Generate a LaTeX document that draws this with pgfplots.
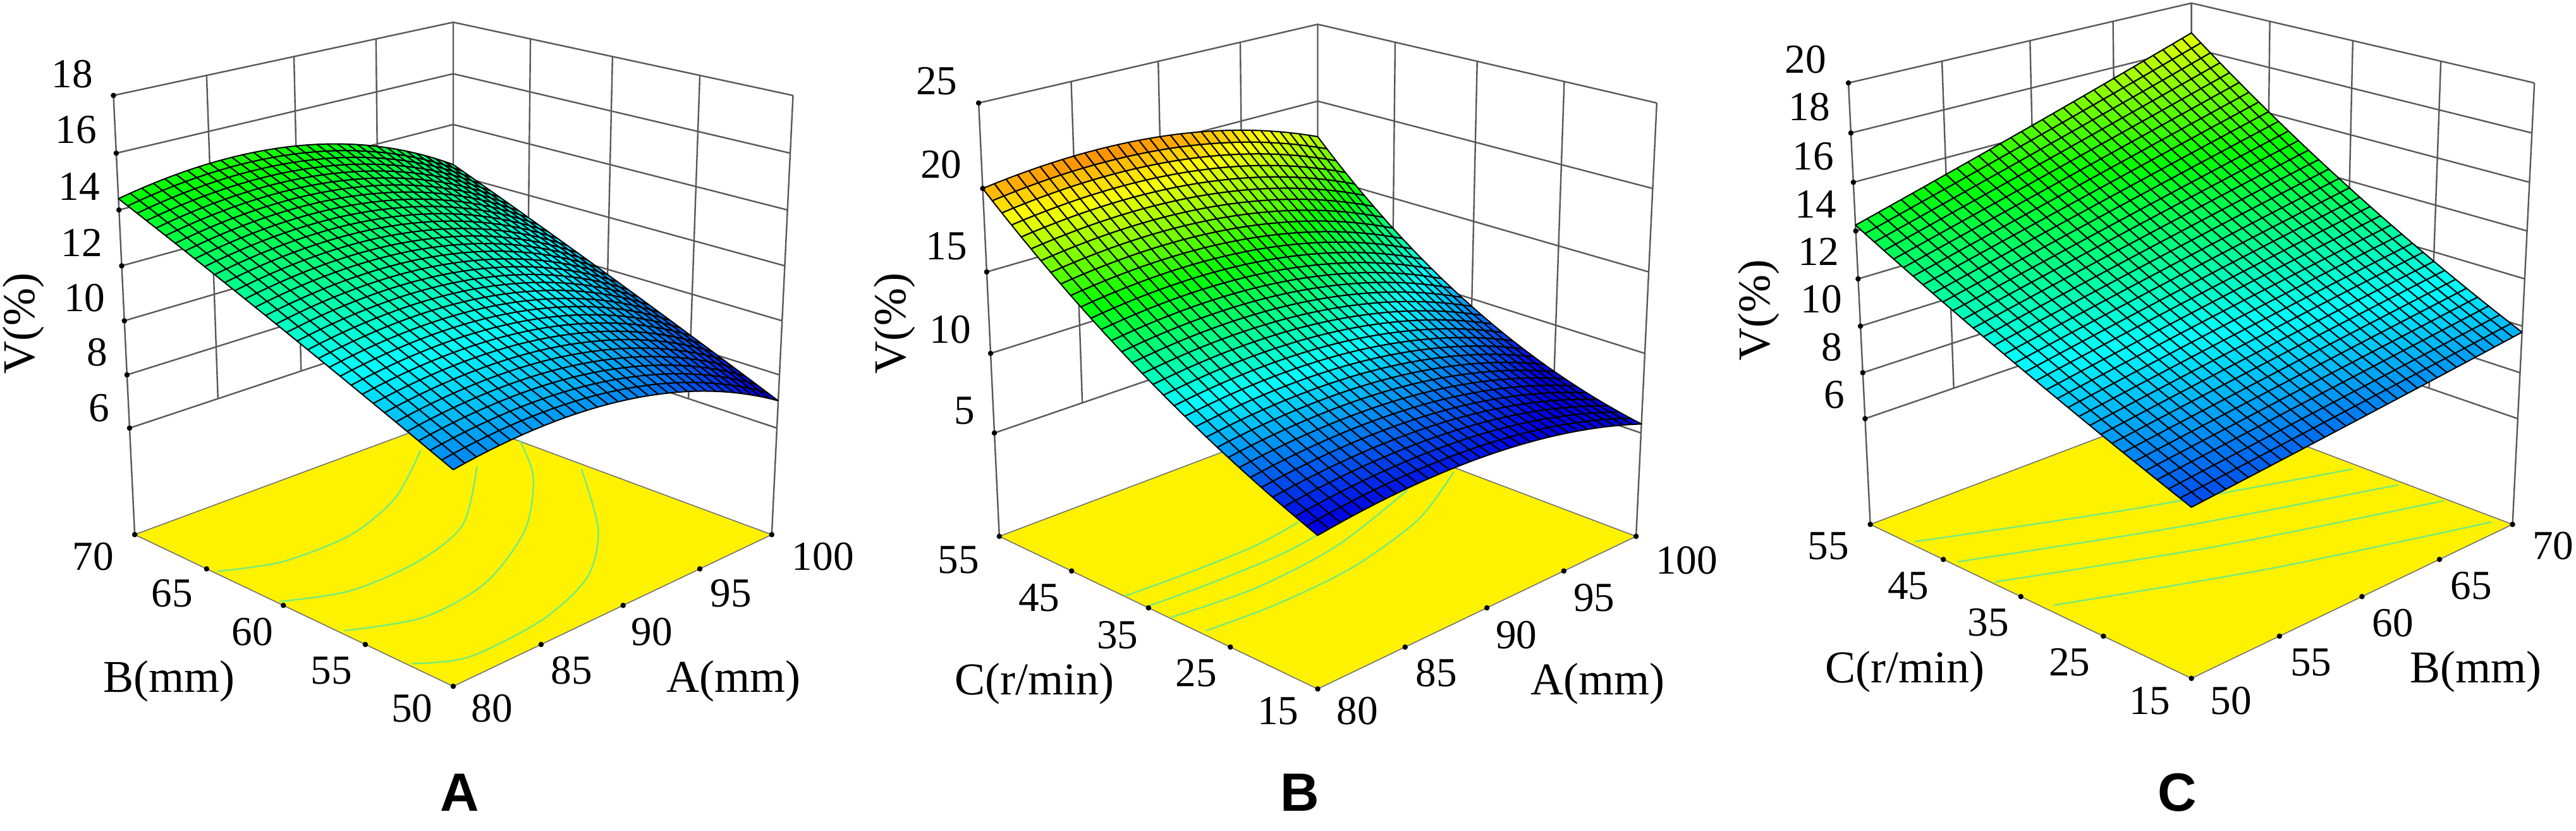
\documentclass[border=0pt]{standalone}
\usepackage{fontspec}
\setmainfont{Liberation Serif}
\newfontfamily\panelfont{Liberation Sans}
\usepackage{pgfplots}
\pgfplotsset{compat=1.18}
\usepgfplotslibrary{patchplots}

% perspective of the Design-Expert box: u,v,w are 0..1 along the three axes
\tikzset{declare function={
  DD(\u,\v,\w)=1+\Pg*(\u+\v)+\Pr*\w;
  PX(\u,\v,\w)=\Pcx+\Pa*(\u-\v)/DD(\u,\v,\w);
  PY(\u,\v,\w)=(\Pyo+\Pd*(\u+\v)+\Pq*\w)/DD(\u,\v,\w);
}}
\definecolor{contgreen}{RGB}{115,235,125}
\pgfplotsset{
  colormap={de}{rgb255=(0,0,225) rgb255=(0,255,255) rgb255=(0,255,0) rgb255=(255,255,0) rgb255=(255,0,0)},
  table/mapped/.style={row sep=\\,
    x expr={PX((\thisrow{a}-\Xlo)/\Xd,(\thisrow{b}-\Ylo)/\Yd,(\thisrow{v}-\Zlo)/\Zd)},
    y expr={PY((\thisrow{a}-\Xlo)/\Xd,(\thisrow{b}-\Ylo)/\Yd,(\thisrow{v}-\Zlo)/\Zd)}},
  panel/.style={hide axis,scale only axis,clip=false,anchor=south west,y dir=reverse,
    xmin=0,xmax=1568,ymin=0,ymax=1568,height=328.5pt,colormap name=de,unbounded coords=jump},
  wall/.style={no marks,black!65,line width=0.6pt},
  floorq/.style={no marks,fill=yellow,draw=black!55,line width=0.4pt},
  cont/.style={no marks,smooth,color=contgreen,line width=0.6pt},
  dots/.style={only marks,mark=*,mark size=0.85pt,mark options={fill=black,draw=black}},
  surface/.style={patch,patch type=biquadratic,patch refines=5,shader=faceted,point meta=explicit,
    faceted color=black,line width=0.5pt},
}
\newcommand\tl[3]{\node[font=\fontsize{16.3}{18}\selectfont] at (axis cs:#1,#2) {#3};}
\newcommand\al[3]{\node[font=\fontsize{18}{20}\selectfont] at (axis cs:#1,#2) {#3};}
\newcommand\vl[2]{\node[rotate=90,font=\fontsize{18}{20}\selectfont] at (axis cs:#1,#2) {V(\%)};}
\newcommand\pl[3]{\node[font=\panelfont\bfseries\fontsize{21.3}{23}\selectfont] at (axis cs:#1,#2) {#3};}

\begin{document}
\begin{tikzpicture}
\useasboundingbox (0,0) rectangle (1018.75pt,328.5pt);

% ---------- A
\def\Pcx{803}\def\Pyo{1295}\def\Pg{0.143}\def\Pr{-0.0716}\def\Pa{645}\def\Pd{-142}\def\Pq{-960}
\def\Xlo{80}\def\Xd{20}\def\Ylo{50}\def\Yd{20}\def\Zlo{1.9}\def\Zd{16.1}
\begin{axis}[panel,at={(0pt,0pt)},width=350pt,point meta min=7.5,point meta max=21.5]
\addplot[wall] table[mapped]{a b v\\
80 70 18\\100 70 18\\100 50 18\\nan nan nan\\
80 70 16\\100 70 16\\100 50 16\\nan nan nan\\
80 70 14\\100 70 14\\100 50 14\\nan nan nan\\
80 70 12\\100 70 12\\100 50 12\\nan nan nan\\
80 70 10\\100 70 10\\100 50 10\\nan nan nan\\
80 70 8\\100 70 8\\100 50 8\\nan nan nan\\
80 70 6\\100 70 6\\100 50 6\\nan nan nan\\
80 70 18\\80 70 1.9\\nan nan nan\\
100 70 18\\100 70 1.9\\nan nan nan\\
100 50 18\\100 50 1.9\\nan nan nan\\
85 70 18\\85 70 6\\nan nan nan\\90 70 18\\90 70 6\\nan nan nan\\95 70 18\\95 70 6\\nan nan nan\\
100 65 18\\100 65 6\\nan nan nan\\100 60 18\\100 60 6\\nan nan nan\\100 55 18\\100 55 6\\
};
\addplot[floorq] table[mapped]{a b v\\80 50 1.9\\100 50 1.9\\100 70 1.9\\80 70 1.9\\80 50 1.9\\};
% floor contours, read off in picture units
\addplot[cont] coordinates {(385,1078)(500,1060)(620,1010)(700,940)(745,850)};
\addplot[cont] coordinates {(495,1135)(620,1115)(740,1060)(820,990)(845,880)};
\addplot[cont] coordinates {(610,1190)(750,1165)(860,1100)(930,1000)(945,900)(920,830)};
\addplot[cont] coordinates {(730,1252)(830,1240)(960,1170)(1040,1090)(1060,1000)(1030,885)};
\addplot[surface] table[mapped,meta=v]{a b v\\
80 50 9.24\\100 50 7.03\\100 70 12.4\\80 70 14.4\\90 50 9.3\\100 60 9.8\\90 70 14.7\\80 60 11.9\\90 60 12.1\\};
\addplot[dots] table[mapped]{a b v\\
80 50 1.9\\85 50 1.9\\90 50 1.9\\95 50 1.9\\100 50 1.9\\80 55 1.9\\80 60 1.9\\80 65 1.9\\80 70 1.9\\
80 70 6\\80 70 8\\80 70 10\\80 70 12\\80 70 14\\80 70 16\\80 70 18\\};
\tl{128}{140}{18}\tl{135}{245}{16}\tl{140}{352}{14}\tl{145}{458}{12}\tl{150}{562}{10}\tl{172}{665}{8}\tl{176}{770}{6}
\vl{42}{610}
\tl{165}{1050}{70}\tl{305}{1120}{65}\tl{447}{1192}{60}\tl{587}{1265}{55}\tl{730}{1337}{50}
\tl{872}{1337}{80}\tl{1013}{1265}{85}\tl{1155}{1192}{90}\tl{1295}{1120}{95}\tl{1458}{1050}{100}
\al{300}{1285}{B(mm)}\al{1300}{1285}{A(mm)}
\pl{815}{1495}{A}
\end{axis}

% ---------- B
\def\Pcx{795}\def\Pyo{1300}\def\Pg{0.1344}\def\Pr{-0.0692}\def\Pa{663.6}\def\Pd{-152}\def\Pq{-941}
\def\Xlo{80}\def\Xd{20}\def\Ylo{15}\def\Yd{40}\def\Zlo{-1.67}\def\Zd{26.67}
\begin{axis}[panel,at={(350pt,0pt)},width=337.5pt,point meta min=7.5,point meta max=22.5]
\addplot[wall] table[mapped]{a b v\\
80 55 25\\100 55 25\\100 15 25\\nan nan nan\\
80 55 20\\100 55 20\\100 15 20\\nan nan nan\\
80 55 15\\100 55 15\\100 15 15\\nan nan nan\\
80 55 10\\100 55 10\\100 15 10\\nan nan nan\\
80 55 5\\100 55 5\\100 15 5\\nan nan nan\\
80 55 25\\80 55 -1.67\\nan nan nan\\
100 55 25\\100 55 -1.67\\nan nan nan\\
100 15 25\\100 15 -1.67\\nan nan nan\\
85 55 25\\85 55 5\\nan nan nan\\90 55 25\\90 55 5\\nan nan nan\\95 55 25\\95 55 5\\nan nan nan\\
100 45 25\\100 45 5\\nan nan nan\\100 35 25\\100 35 5\\nan nan nan\\100 25 25\\100 25 5\\
};
\addplot[floorq] table[mapped]{a b v\\80 15 -1.67\\100 15 -1.67\\100 55 -1.67\\80 55 -1.67\\80 15 -1.67\\};
\addplot[cont] coordinates {(440,1125)(560,1080)(680,1030)(760,985)};
\addplot[cont] coordinates {(480,1145)(600,1100)(740,1040)(860,970)};
\addplot[cont] coordinates {(525,1165)(680,1110)(830,1030)(960,925)};
\addplot[cont] coordinates {(590,1190)(720,1140)(860,1070)(980,980)(1045,890)};
\addplot[surface] table[mapped,meta=v]{a b v\\
80 15 7.2\\100 15 5.57\\100 55 17.65\\80 55 20\\90 15 7.69\\100 35 9.5\\90 55 20.35\\80 35 12.43\\90 35 12.6\\};
\addplot[dots] table[mapped]{a b v\\
80 15 -1.67\\85 15 -1.67\\90 15 -1.67\\95 15 -1.67\\100 15 -1.67\\80 25 -1.67\\80 35 -1.67\\80 45 -1.67\\80 55 -1.67\\
80 55 5\\80 55 10\\80 55 15\\80 55 20\\80 55 25\\};
\tl{95}{153}{25}\tl{103}{310}{20}\tl{113}{465}{15}\tl{120}{622}{10}\tl{146}{775}{5}
\vl{18}{610}
\tl{135}{1057}{55}\tl{283}{1128}{45}\tl{427}{1198}{35}\tl{572}{1270}{25}\tl{722}{1342}{15}
\tl{868}{1342}{80}\tl{1013}{1270}{85}\tl{1160}{1198}{90}\tl{1303}{1128}{95}\tl{1473}{1057}{100}
\al{275}{1290}{C(r/min)}\al{1310}{1290}{A(mm)}
\pl{762}{1495}{B}
\end{axis}

% ---------- C
\def\Pcx{848}\def\Pyo{1280}\def\Pg{0.1329}\def\Pr{-0.0723}\def\Pa{681}\def\Pd{-159}\def\Pq{-955}
\def\Xlo{50}\def\Xd{20}\def\Ylo{15}\def\Yd{40}\def\Zlo{1.29}\def\Zd{18.71}
\begin{axis}[panel,at={(687.5pt,0pt)},width=331.25pt,point meta min=7,point meta max=23]
\addplot[wall] table[mapped]{a b v\\
50 55 20\\70 55 20\\70 15 20\\nan nan nan\\
50 55 18\\70 55 18\\70 15 18\\nan nan nan\\
50 55 16\\70 55 16\\70 15 16\\nan nan nan\\
50 55 14\\70 55 14\\70 15 14\\nan nan nan\\
50 55 12\\70 55 12\\70 15 12\\nan nan nan\\
50 55 10\\70 55 10\\70 15 10\\nan nan nan\\
50 55 8\\70 55 8\\70 15 8\\nan nan nan\\
50 55 6\\70 55 6\\70 15 6\\nan nan nan\\
50 55 20\\50 55 1.29\\nan nan nan\\
70 55 20\\70 55 1.29\\nan nan nan\\
70 15 20\\70 15 1.29\\nan nan nan\\
55 55 20\\55 55 6\\nan nan nan\\60 55 20\\60 55 6\\nan nan nan\\65 55 20\\65 55 6\\nan nan nan\\
70 45 20\\70 45 6\\nan nan nan\\70 35 20\\70 35 6\\nan nan nan\\70 25 20\\70 25 6\\
};
\addplot[floorq] table[mapped]{a b v\\50 15 1.29\\70 15 1.29\\70 55 1.29\\50 55 1.29\\50 15 1.29\\};
\addplot[cont] coordinates {(330,1022)(740,960)(1150,885)};
\addplot[cont] coordinates {(410,1060)(820,995)(1235,915)};
\addplot[cont] coordinates {(480,1098)(900,1030)(1320,945)};
\addplot[cont] coordinates {(590,1142)(1000,1072)(1410,985)};
\addplot[surface] table[mapped,meta=v]{a b v\\
50 15 8.11\\70 15 9.74\\70 55 18.68\\50 55 14.24\\60 15 8.9\\70 35 13.7\\60 55 16.4\\50 35 11.0\\60 35 12.4\\};
\addplot[dots] table[mapped]{a b v\\
50 15 1.29\\55 15 1.29\\60 15 1.29\\65 15 1.29\\70 15 1.29\\50 25 1.29\\50 35 1.29\\50 45 1.29\\50 55 1.29\\
50 55 6\\50 55 8\\50 55 10\\50 55 12\\50 55 14\\50 55 16\\50 55 18\\50 55 20\\};
\tl{126}{112}{20}\tl{133}{202}{18}\tl{140}{295}{16}\tl{145}{385}{14}\tl{150}{475}{12}\tl{155}{565}{10}\tl{175}{655}{8}\tl{180}{745}{6}
\vl{38}{585}
\tl{168}{1030}{55}\tl{318}{1105}{45}\tl{468}{1175}{35}\tl{620}{1250}{25}\tl{770}{1322}{15}
\tl{922}{1322}{50}\tl{1072}{1250}{55}\tl{1225}{1175}{60}\tl{1372}{1105}{65}\tl{1525}{1030}{70}
\al{312}{1268}{C(r/min)}\al{1380}{1268}{B(mm)}
\pl{822}{1495}{C}
\end{axis}
\end{tikzpicture}
\end{document}
